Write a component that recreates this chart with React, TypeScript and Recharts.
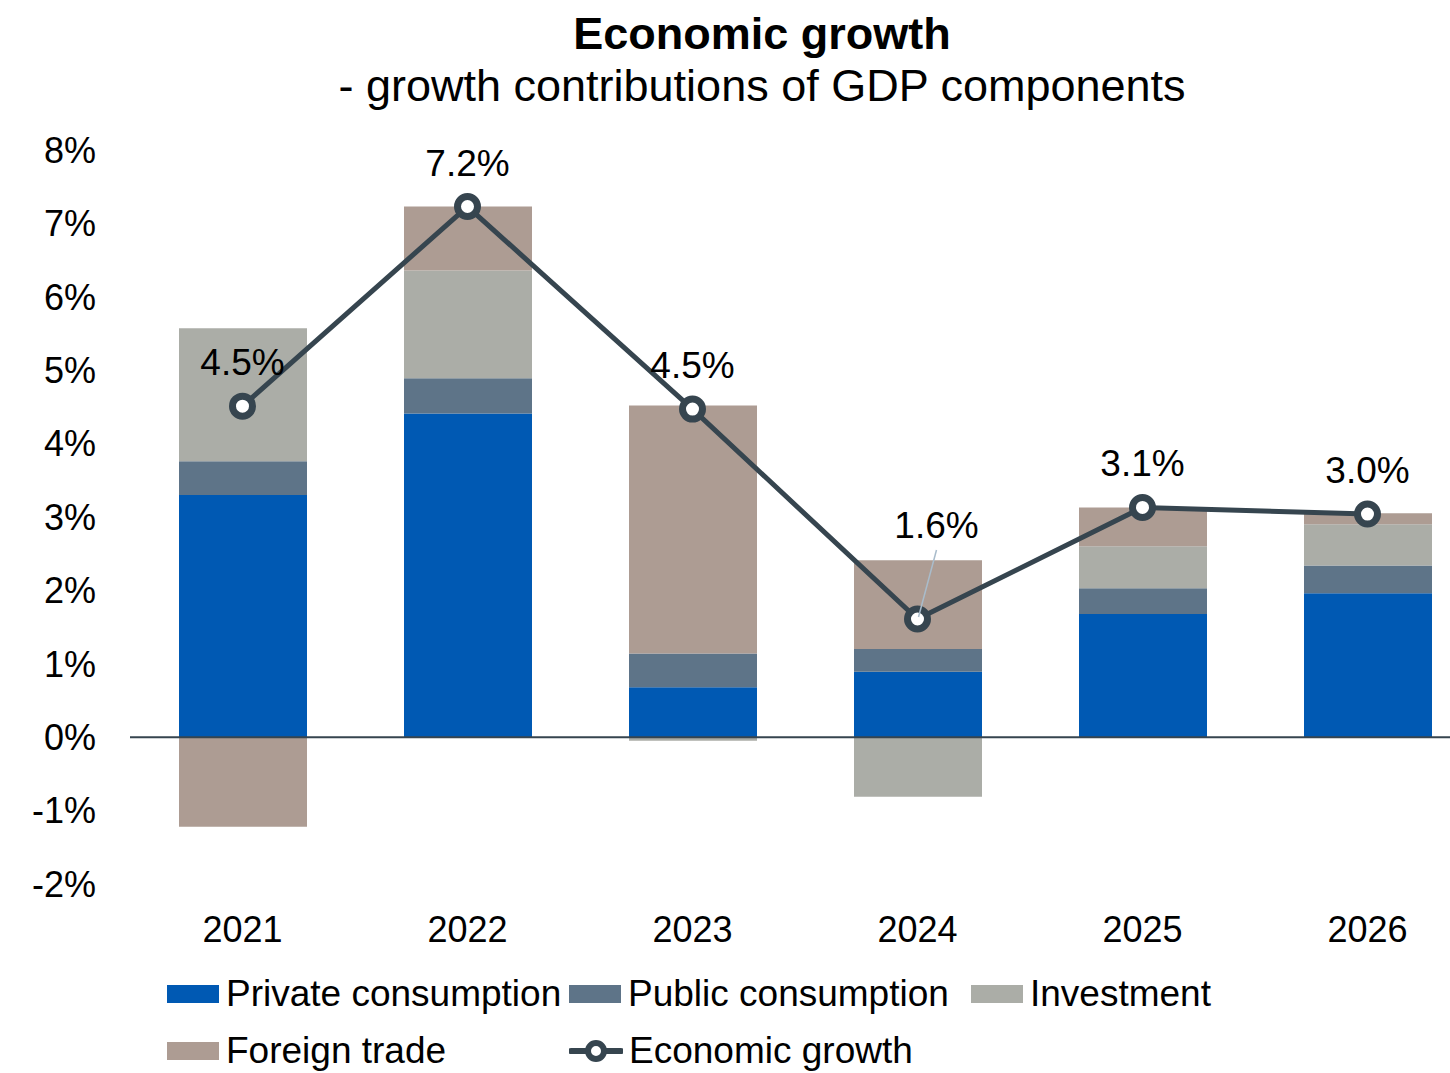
import { ComposedChart, Bar, Line, XAxis, YAxis, ReferenceLine, LabelList } from "recharts";

const years = ["2021", "2022", "2023", "2024", "2025", "2026"];
const privateConsumption = [3.3, 4.41, 0.68, 0.89, 1.68, 1.96];
const publicConsumption = [0.46, 0.48, 0.46, 0.31, 0.35, 0.38];
const investment = [1.81, 1.47, -0.05, -0.81, 0.57, 0.56];
const foreignTrade = [-1.22, 0.87, 3.38, 1.21, 0.53, 0.15];
const economicGrowth = [4.51, 7.23, 4.47, 1.61, 3.13, 3.04];
const yTicks = [-2, -1, 0, 1, 2, 3, 4, 5, 6, 7, 8];

const data = years.map((year, i) => ({
    year,
    privateC: privateConsumption[i],
    publicC: publicConsumption[i],
    investment: investment[i],
    foreign: foreignTrade[i],
    growth: economicGrowth[i],
}));

const FONT = "'Liberation Sans', Arial, Helvetica, sans-serif";
const C_PRIVATE = "#0059b3";
const C_PUBLIC = "#5e7488";
const C_INVEST = "#abada7";
const C_FOREIGN = "#ad9c93";
const C_LINE = "#36454f";

function GrowthLabel(props: any) {
    const { x, y, value, index } = props;
    const text = `${Number(value).toFixed(1)}%`;
    if (index === 3) {
        // this one sits higher and to the right, with a leader line
        return (
            <g>
                <line x1={x + 19} y1={y - 69} x2={x + 1} y2={y - 2} stroke="#a9bccb" strokeWidth={1.5} />
                <text x={x + 19} y={y - 81} textAnchor="middle" fontSize={37} fontFamily={FONT} fill="#000">
                    {text}
                </text>
            </g>
        );
    }
    return (
        <text x={x} y={y - 31} textAnchor="middle" fontSize={37} fontFamily={FONT} fill="#000">
            {text}
        </text>
    );
}

const legendItems = [
    { name: "Private consumption", color: C_PRIVATE, line: false },
    { name: "Public consumption", color: C_PUBLIC, line: false },
    { name: "Investment", color: C_INVEST, line: false },
    { name: "Foreign trade", color: C_FOREIGN, line: false },
    { name: "Economic growth", color: C_LINE, line: true },
];

function LegendBox() {
    return (
        <div
            style={{
                position: "absolute",
                left: 167,
                top: 973,
                display: "grid",
                gridTemplateColumns: "402px 402px 402px",
                rowGap: 15,
                fontFamily: FONT,
                fontSize: 37,
                color: "#000",
                lineHeight: "42px",
            }}
        >
            {legendItems.map((it) => (
                <div key={it.name} style={{ display: "flex", alignItems: "center", whiteSpace: "nowrap" }}>
                    {it.line ? (
                        <svg width={54} height={24} style={{ marginRight: 6 }}>
                            <line x1={2} y1={12} x2={52} y2={12} stroke={it.color} strokeWidth={6} strokeLinecap="round" />
                            <circle cx={27} cy={12} r={8} fill="#fff" stroke={it.color} strokeWidth={6} />
                        </svg>
                    ) : (
                        <div style={{ width: 52, height: 18, background: it.color, marginRight: 7 }} />
                    )}
                    <span>{it.name}</span>
                </div>
            ))}
        </div>
    );
}

export default function App() {
    return (
        <div
            style={{
                position: "absolute",
                left: 0,
                top: 0,
                width: 1450,
                height: 1073,
                overflow: "hidden",
                background: "#fff",
            }}
        >
            <div
                style={{
                    position: "absolute",
                    left: 0,
                    top: 8,
                    width: 1524,
                    textAlign: "center",
                    fontFamily: FONT,
                    fontSize: 45,
                    lineHeight: "52px",
                    color: "#000",
                }}
            >
                <div style={{ fontWeight: "bold" }}>Economic growth</div>
                <div>- growth contributions of GDP components</div>
            </div>
            <div style={{ position: "absolute", left: 0, top: 0 }}>
                <ComposedChart
                    width={1500}
                    height={1073}
                    data={data}
                    stackOffset="sign"
                    margin={{ top: 150, right: 20, bottom: 129, left: 0 }}
                    barCategoryGap={97}
                >
                    <XAxis
                        dataKey="year"
                        axisLine={false}
                        tickLine={false}
                        tickSize={0}
                        tickMargin={32}
                        height={60}
                        tick={{ fill: "#000", fontSize: 36, fontFamily: FONT }}
                    />
                    <YAxis
                        domain={[-2, 8]}
                        ticks={yTicks}
                        interval={0}
                        width={130}
                        axisLine={false}
                        tickLine={false}
                        tickSize={0}
                        tickMargin={34}
                        tickFormatter={(v: number) => `${v}%`}
                        tick={{ fill: "#000", fontSize: 36, fontFamily: FONT }}
                    />
                    <Bar dataKey="privateC" stackId="a" fill={C_PRIVATE} barSize={128} isAnimationActive={false} />
                    <Bar dataKey="publicC" stackId="a" fill={C_PUBLIC} barSize={128} isAnimationActive={false} />
                    <Bar dataKey="investment" stackId="a" fill={C_INVEST} barSize={128} isAnimationActive={false} />
                    <Bar dataKey="foreign" stackId="a" fill={C_FOREIGN} barSize={128} isAnimationActive={false} />
                    <ReferenceLine y={0} stroke={C_LINE} strokeWidth={2} />
                    <Line
                        dataKey="growth"
                        stroke={C_LINE}
                        strokeWidth={5}
                        dot={{ r: 10, fill: "#fff", stroke: C_LINE, strokeWidth: 7 }}
                        activeDot={false}
                        isAnimationActive={false}
                    >
                        <LabelList dataKey="growth" content={<GrowthLabel />} />
                    </Line>
                </ComposedChart>
            </div>
            <LegendBox />
        </div>
    );
}
